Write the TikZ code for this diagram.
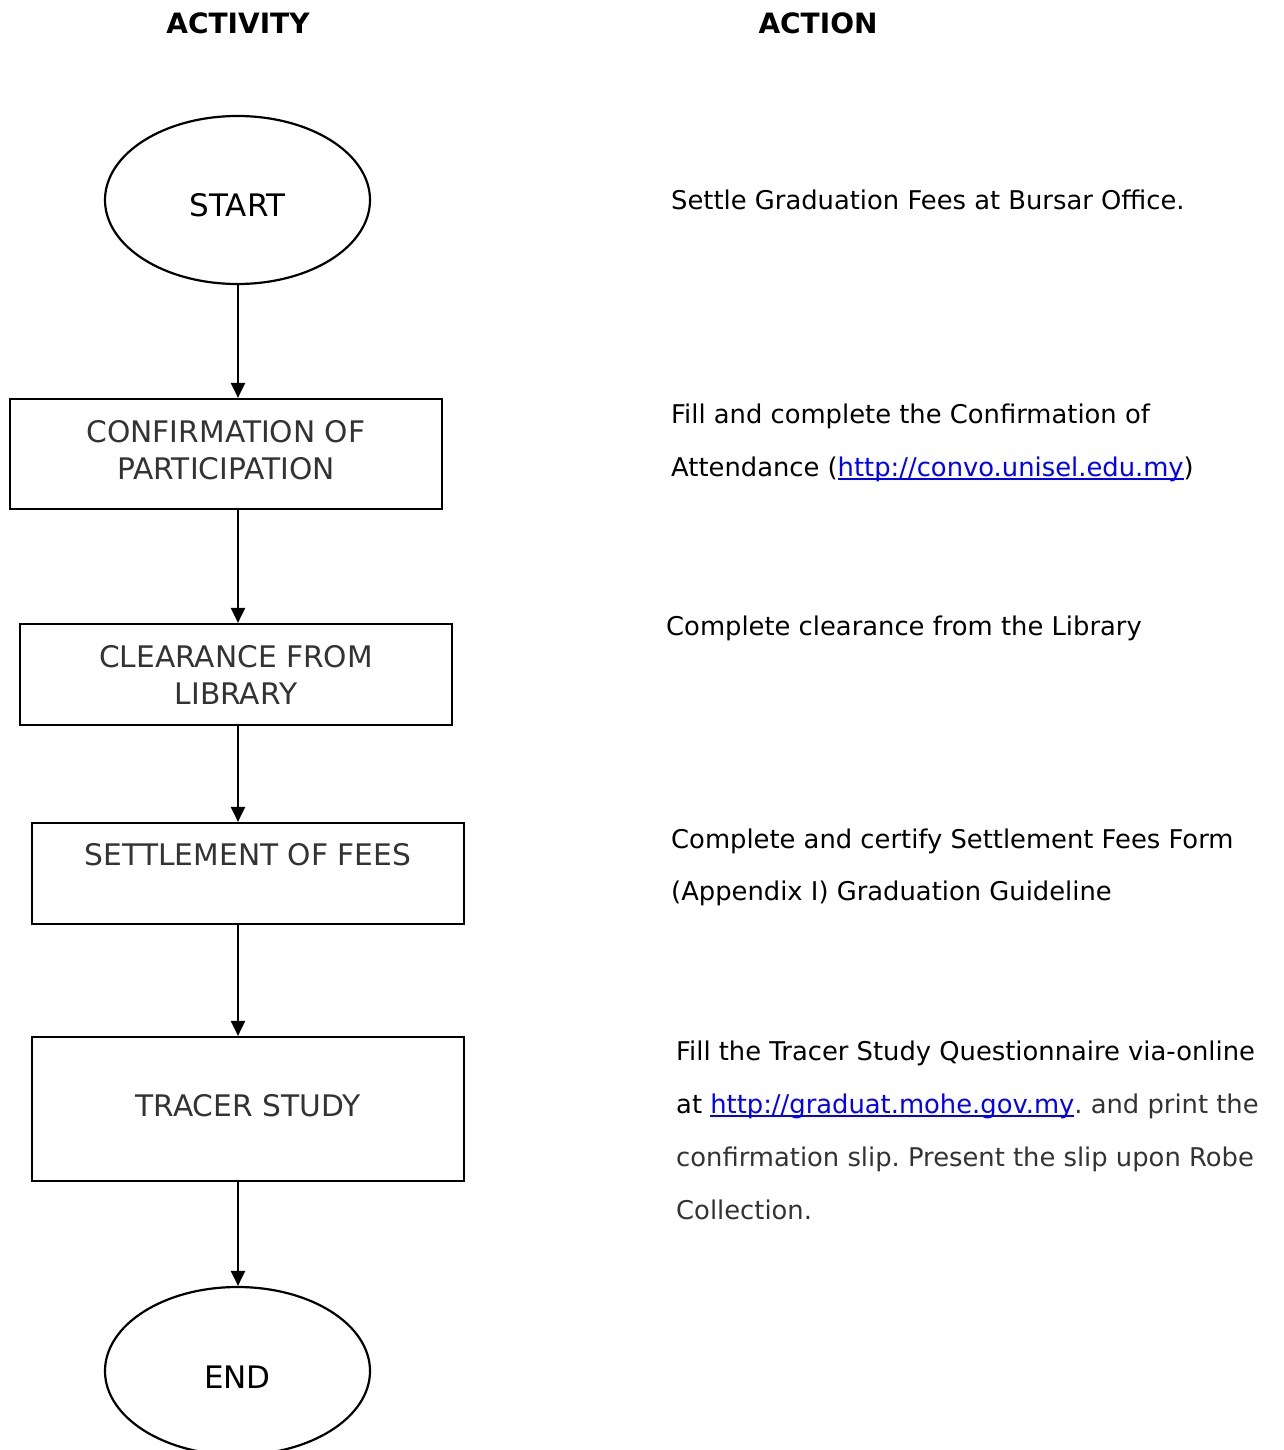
\documentclass[tikz,border=0pt]{standalone}
\usepackage{fontspec}
\setmainfont{DejaVu Sans}
\usetikzlibrary{arrows.meta,shapes.geometric}
\definecolor{boxtext}{HTML}{333333}
\definecolor{greytext}{HTML}{333333}
\definecolor{linkblue}{HTML}{0000FF}
\newcommand{\lnk}[1]{{\color{linkblue}\setbox0\hbox{#1}\rlap{\rule[-3.5pt]{\wd0}{1.8pt}}\box0}}
\frenchspacing
\begin{document}
\begin{tikzpicture}[x=1pt,y=-1pt,
  flowline/.style={line width=2.2pt,-{Triangle[width=14pt,length=15pt]}},
  terminal/.style={draw,line width=2.2pt,ellipse,minimum width=265pt,minimum height=168pt,inner sep=0pt},
  stepbox/.style={draw,line width=2.2pt,rectangle,inner sep=0pt},
  boxlabel/.style={inner sep=0pt,text=boxtext,font=\fontsize{29.7}{37}\selectfont,align=center},
  actline/.style={inner sep=0pt,anchor=base west,font=\fontsize{25.8}{30}\selectfont},
  header/.style={inner sep=0pt,font=\bfseries\fontsize{28}{32}\selectfont}]
\useasboundingbox (0,0) rectangle (1284,1450);
% headers
\node[header] (h1) at (238,23) {ACTIVITY};
\node[header] (h2) at (818,23) {ACTION};
% flow
\node[terminal] (start) at (237.5,200) {};
\node[boxlabel,text=black,font=\fontsize{31}{37}\selectfont] (startl) at (237.5,205) {START};
\node[stepbox,minimum width=432pt,minimum height=110pt] (b1) at (226,454) {};
\node[boxlabel] (b1l) at (226,450) {CONFIRMATION OF\\PARTICIPATION};
\node[stepbox,minimum width=432pt,minimum height=101pt] (b2) at (236,674.5) {};
\node[boxlabel] (b2l) at (236,675) {CLEARANCE FROM\\LIBRARY};
\node[stepbox,minimum width=432pt,minimum height=101pt] (b3) at (248,873.5) {};
\node[boxlabel] (b3l) at (248,855) {SETTLEMENT OF FEES};
\node[stepbox,minimum width=432pt,minimum height=144pt] (b4) at (248,1109) {};
\node[boxlabel] (b4l) at (248,1106) {TRACER STUDY};
\node[terminal] (end) at (237.5,1371) {};
\node[boxlabel,text=black,font=\fontsize{31}{37}\selectfont] (endl) at (237.5,1377) {END};
\coordinate (ax) at (238,0);
\draw[flowline] (start.south -| ax) -- (b1.north -| ax);
\draw[flowline] (b1.south -| ax) -- (b2.north -| ax);
\draw[flowline] (b2.south -| ax) -- (b3.north -| ax);
\draw[flowline] (b3.south -| ax) -- (b4.north -| ax);
\draw[flowline] (b4.south -| ax) -- (end.north -| ax);
% actions
\node[actline] (a1) at (671,210) {Settle Graduation Fees at Bursar Office.};
\node[actline] (a2a) at (671,423) {Fill and complete the Confirmation of};
\node[actline] (a2b) at (671,476) {Attendance (\lnk{http://convo.unisel.edu.my})};
\node[actline] (a3) at (666,635) {Complete clearance from the Library};
\node[actline] (a4a) at (671,848) {Complete and certify Settlement Fees Form};
\node[actline] (a4b) at (671,900) {(Appendix I) Graduation Guideline};
\node[actline] (a5a) at (676,1060) {Fill the Tracer Study Questionnaire via-online};
\node[actline] (a5b) at (676,1113) {at \lnk{http://graduat.mohe.gov.my}\textcolor{greytext}{. and print the}};
\node[actline,text=greytext] (a5c) at (676,1166) {confirmation slip. Present the slip upon Robe};
\node[actline,text=greytext] (a5d) at (676,1219) {Collection.};
\end{tikzpicture}
\end{document}
